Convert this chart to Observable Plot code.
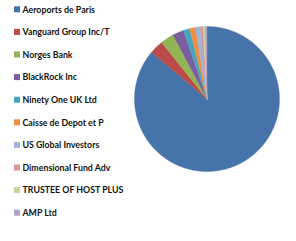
<!DOCTYPE html>
<html><head><meta charset="utf-8">
<script src="https://cdn.jsdelivr.net/npm/d3@7"></script>
<script src="https://cdn.jsdelivr.net/npm/@observablehq/plot@0.6"></script>
<style>html,body{margin:0;padding:0;background:#fff}svg{display:block}</style>
</head><body><div id="chart"></div>
<script>
const holders = ["Aeroports de Paris","Vanguard Group Inc/T","Norges Bank","BlackRock Inc","Ninety One UK Ltd","Caisse de Depot et P","US Global Investors","Dimensional Fund Adv","TRUSTEE OF HOST PLUS","AMP Ltd"];
const shares = [86.2, 3.1, 3.0, 2.5, 1.4, 1.3, 1.1, 0.6, 0.45, 0.4];
const colors = ["#4673AA","#BA4B49","#93B455","#7A5E9E","#46A6C0","#EF8E40","#9FB4DB","#D99694","#C3D69B","#B3A2C7"];

const W = 296, H = 241;
const cx = 206.5, cy = 98.5, r = 72.5;
const legendX = 14, legendTop = 9.3, legendStep = 22.6, sq = 6;

const data = holders.map((name, i) => ({name, value: shares[i]}));
const arcs = d3.pie().sort(null).value(d => d.value)(data);
const pts = [];
for (const a of arcs) {
  const name = a.data.name;
  pts.push({name, x: cx, y: cy});
  const n = Math.max(2, Math.ceil((a.endAngle - a.startAngle) / 0.01));
  for (let k = 0; k <= n; k++) {
    const t = a.startAngle + (a.endAngle - a.startAngle) * k / n;
    pts.push({name, x: cx + r * Math.sin(t), y: cy - r * Math.cos(t)});
  }
  pts.push({name, x: cx, y: cy});
}
const legend = data.map((d, i) => ({name: d.name, y: legendTop + i * legendStep}));

const chart = Plot.plot({
  width: W, height: H, margin: 0,
  style: {background: "#fff"},
  x: {domain: [0, W], range: [0, W], axis: null},
  y: {domain: [0, H], range: [0, H], axis: null},
  color: {domain: holders, range: colors},
  marks: [
    Plot.line(pts, {x: "x", y: "y", z: "name", fill: "name", stroke: "name", strokeWidth: 0.4, curve: "linear"}),
    Plot.rect(legend, {x1: legendX, x2: legendX + sq, y1: d => d.y - sq / 2, y2: d => d.y + sq / 2, fill: "name"}),
    Plot.text(legend, {x: legendX + sq + 2, y: "y", text: "name", textAnchor: "start", fill: "#111", fontSize: 8.8, fontWeight: "bold", fontFamily: "Lato, 'Open Sans', sans-serif"})
  ]
});
document.getElementById("chart").append(chart);
</script>
</body></html>
